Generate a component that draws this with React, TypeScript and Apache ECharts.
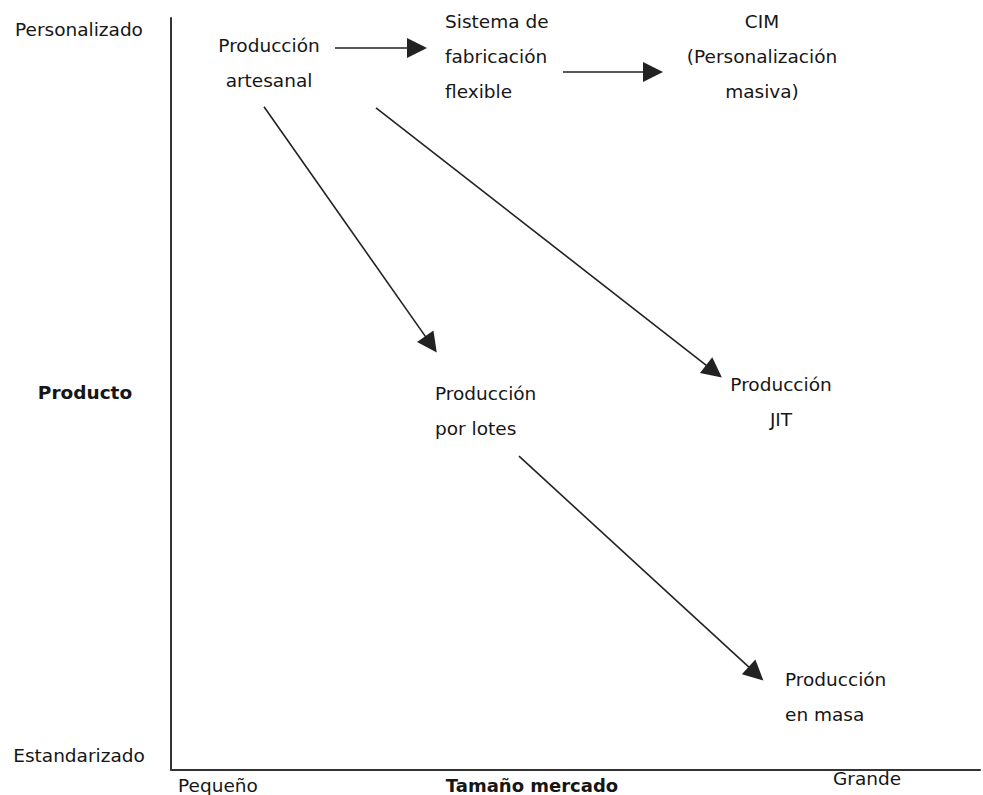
import React, { useEffect, useRef } from "react";
import * as echarts from "echarts";

// Coordinates: x = market size (0 = small), y = product (0 = standardised), in the chart's units
const nodeNames = [
  "Producción\nartesanal",
  "Sistema de\nfabricación\nflexible",
  "CIM\n(Personalización\nmasiva)",
  "Producción\npor lotes",
  "Producción\nJIT",
  "Producción\nen masa",
];
const nodeX = [98, 274, 591, 264, 610, 614];
const nodeY = [708, 714, 714, 359, 368, 73];
const nodeAlign = ["center", "left", "center", "left", "center", "left"];

const arrowFrom: [number, number][] = [
  [164, 723],
  [392, 699],
  [93, 664],
  [205, 663],
  [348, 314],
];
const arrowTo: [number, number][] = [
  [246, 723],
  [482, 699],
  [260, 426],
  [543, 399],
  [585, 96],
];

const yTickValues = [741, 378, 14];
const yTickLabels = ["Personalizado", "Producto", "Estandarizado"];
const xTickValues = [47, 361, 696];
const xTickLabels = ["Pequeño", "Tamaño mercado", "Grande"];

const X_MAX = 809;
const Y_MAX = 753;
const FONT = "DejaVu Sans";
const TEXT = "#161616";
const FS = 18.5;

export default function App() {
  const ref = useRef<HTMLDivElement>(null);
  useEffect(() => {
    if (!ref.current) return;
    const chart = echarts.init(ref.current, undefined, { renderer: "svg" });
    const option: any = {
      animation: false,
      backgroundColor: "#ffffff",
      grid: { left: 171, top: 18, right: 3, bottom: 24, containLabel: false },
      xAxis: {
        type: "value",
        min: 0,
        max: X_MAX,
        splitLine: { show: false },
        axisTick: { show: false },
        axisLine: { show: true, lineStyle: { color: "#333", width: 2 } },
        axisLabel: {
          customValues: xTickValues,
          margin: 16,
          verticalAlign: "middle",
          align: "center",
          fontFamily: FONT,
          fontSize: FS,
          color: TEXT,
          formatter: (v: number) => {
            const i = xTickValues.indexOf(v);
            if (i < 0) return "";
            if (i === 1) return "{b|" + xTickLabels[i] + "}";
            if (i === 2) return "{up|" + xTickLabels[i] + "}";
            return xTickLabels[i];
          },
          rich: {
            b: { fontWeight: "bold", fontFamily: FONT, fontSize: 18, color: TEXT },
            up: { padding: [0, 0, 14, 0], fontFamily: FONT, fontSize: FS, color: TEXT },
          },
        },
      },
      yAxis: {
        type: "value",
        min: 0,
        max: Y_MAX,
        splitLine: { show: false },
        axisTick: { show: false },
        axisLine: { show: true, lineStyle: { color: "#333", width: 2 } },
        axisLabel: {
          customValues: yTickValues,
          margin: 92,
          align: "center",
          verticalAlign: "middle",
          fontFamily: FONT,
          fontSize: FS,
          color: TEXT,
          formatter: (v: number) => {
            const i = yTickValues.indexOf(v);
            if (i < 0) return "";
            if (i === 1) return "{b|" + yTickLabels[i] + "}";
            return yTickLabels[i];
          },
          rich: {
            b: { fontWeight: "bold", fontFamily: FONT, fontSize: FS, color: TEXT, padding: [0, 0, 0, 12] },
          },
        },
      },
      series: [
        {
          type: "scatter",
          symbolSize: 0,
          itemStyle: { color: TEXT, opacity: 1 },
          silent: true,
          data: nodeNames.map((n, i) => ({
            name: n,
            value: [nodeX[i], nodeY[i]],
            label: { align: nodeAlign[i] },
          })),
          label: {
            show: true,
            position: [0, 0],
            verticalAlign: "middle",
            formatter: "{b}",
            fontFamily: FONT,
            fontSize: FS,
            lineHeight: 35,
            color: TEXT,
            opacity: 1,
            textBorderWidth: 0,
          },
        },
        {
          type: "lines",
          coordinateSystem: "cartesian2d",
          symbol: ["none", "triangle"],
          symbolSize: 20,
          silent: true,
          lineStyle: { color: "#222", width: 1.6, opacity: 1, curveness: 0 },
          data: arrowFrom.map((f, i) => ({ coords: [f, arrowTo[i]] })),
        },
      ],
    };
    chart.setOption(option);
    return () => chart.dispose();
  }, []);
  return (
    <div
      ref={ref}
      style={{ position: "fixed", left: 0, top: 0, width: 983, height: 795, background: "#fff" }}
    />
  );
}
